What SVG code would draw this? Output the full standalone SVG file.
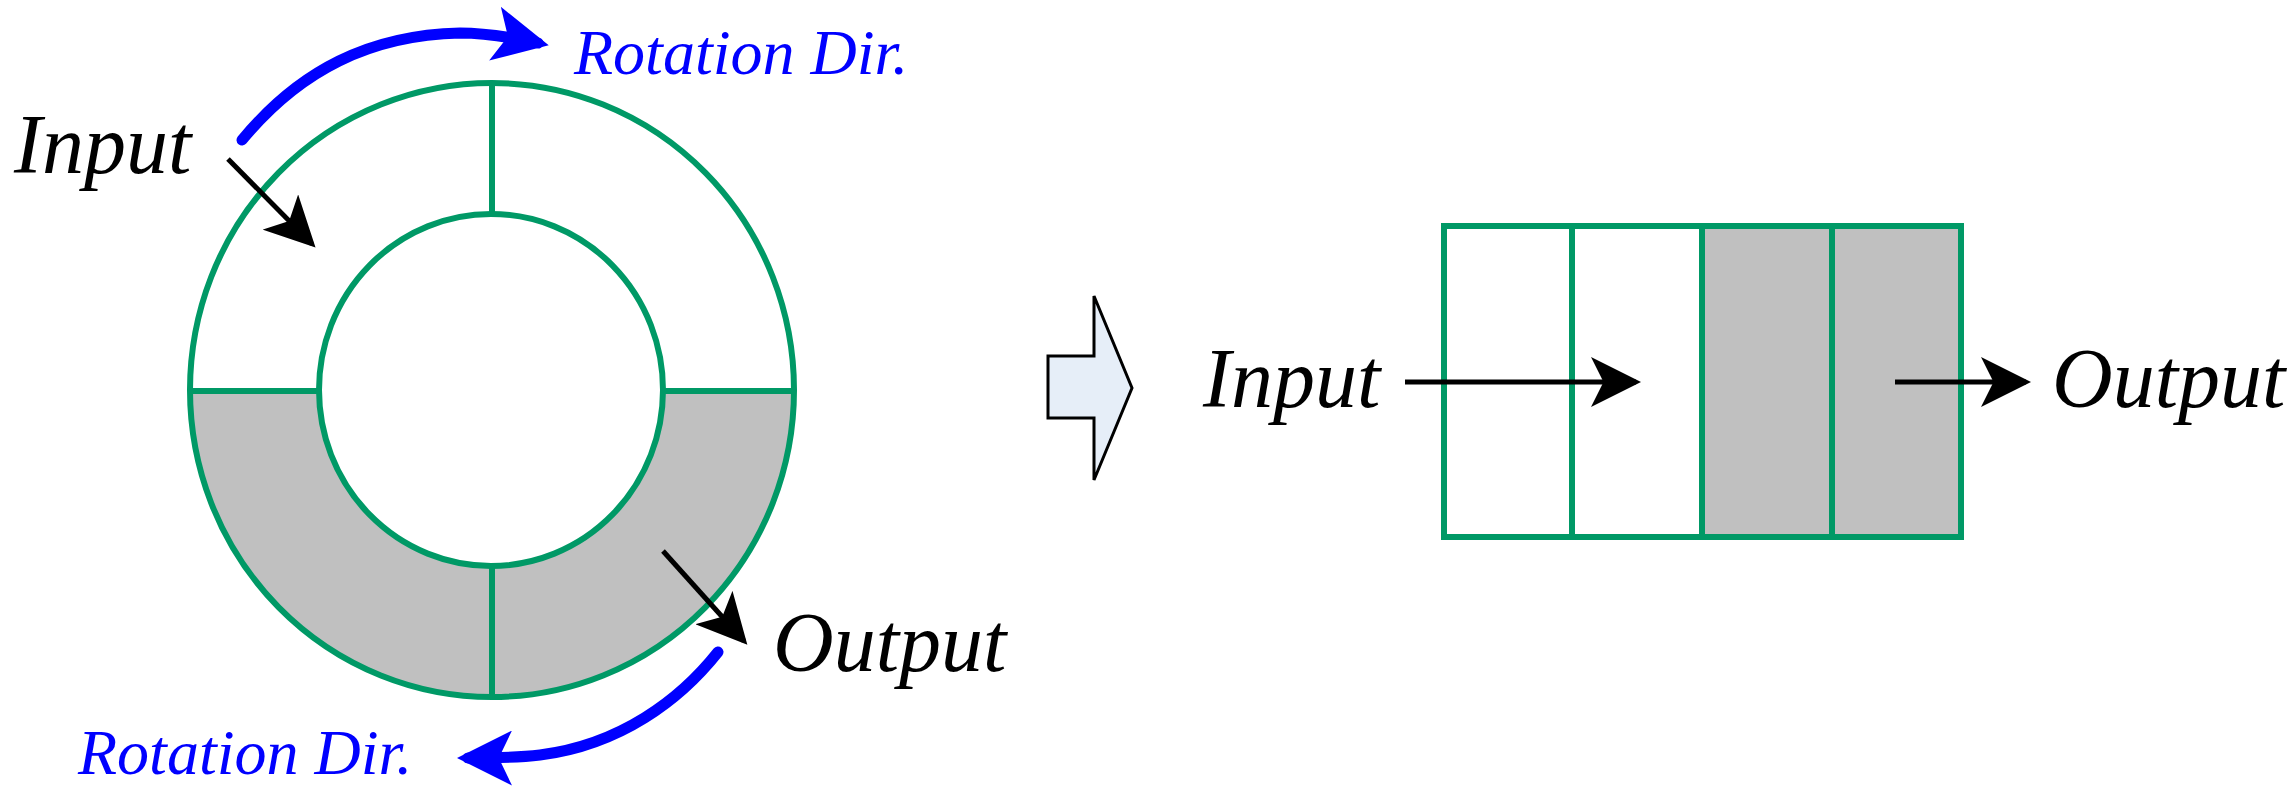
<svg xmlns="http://www.w3.org/2000/svg" width="2289" height="787" viewBox="0 0 2289 787">
<style>
.g{stroke:#009966;stroke-width:6;fill:none}
.t{font-family:"Liberation Serif",serif;font-style:italic}
.k{stroke:#000;stroke-width:5;fill:none;marker-end:url(#ak)}
.b{stroke:#0000ff;stroke-width:11;fill:none;stroke-linecap:round;marker-end:url(#ab)}
</style>
<defs>
<marker id="ak" markerWidth="10" markerHeight="10" refX="9" refY="5" orient="auto" markerUnits="strokeWidth"><path d="M0,0 L10,5 L0,10 L2.5,5 Z" fill="#000"/></marker>
<marker id="ab" markerWidth="5" markerHeight="5" refX="4" refY="2.5" orient="auto" markerUnits="strokeWidth"><path d="M0,0 L5,2.5 L0,5 L1.2,2.5 Z" fill="#0000ff"/></marker>
</defs>
<rect width="2289" height="787" fill="#fff"/>
<g id="ring">
<path d="M190,391 A302,307 0 0 0 794,391 L663,391 A172,176 0 0 1 319,391 Z" fill="#c0c0c0"/>
<ellipse class="g" cx="492" cy="390" rx="302" ry="307"/>
<ellipse class="g" cx="491" cy="390" rx="172" ry="176"/>
<line class="g" x1="190" y1="391" x2="319" y2="391"/>
<line class="g" x1="663" y1="391" x2="794" y2="391"/>
<line class="g" x1="492" y1="83" x2="492" y2="214"/>
<line class="g" x1="492" y1="566" x2="492" y2="697"/>
</g>
<g id="block-arrow">
<path d="M1048,356 L1094,356 L1094,296 L1132,388 L1094,480 L1094,418 L1048,418 Z" fill="#e6eef8" stroke="#000" stroke-width="3"/>
</g>
<g id="buffer">
<rect x="1702" y="226" width="259" height="311" fill="#c0c0c0"/>
<rect class="g" x="1444" y="226" width="517" height="311"/>
<line class="g" x1="1572" y1="226" x2="1572" y2="537"/>
<line class="g" x1="1702" y1="226" x2="1702" y2="537"/>
<line class="g" x1="1832" y1="226" x2="1832" y2="537"/>
</g>
<g id="connectors">
<line class="k" x1="228" y1="159" x2="312" y2="244"/>
<line class="k" x1="663" y1="551" x2="744" y2="641"/>
<path class="b" d="M242,140 C300,70 370,35 460,33 C490,33 515,38 538,43"/>
<path class="b" d="M718,652 C680,700 620,745 540,755 C515,758 490,758 468,758"/>
<line class="k" x1="1405" y1="382" x2="1636" y2="382"/>
<line class="k" x1="1895" y1="382" x2="2026" y2="382"/>
</g>
<g id="labels">
<text class="t" x="14" y="173" font-size="84">Input</text>
<text class="t" x="773" y="671" font-size="84">Output</text>
<text class="t" x="574" y="74" font-size="64" fill="#0000ff">Rotation Dir.</text>
<text class="t" x="78" y="774" font-size="64" fill="#0000ff">Rotation Dir.</text>
<text class="t" x="1203" y="407" font-size="84">Input</text>
<text class="t" x="2052" y="407" font-size="84">Output</text>
</g>
</svg>
